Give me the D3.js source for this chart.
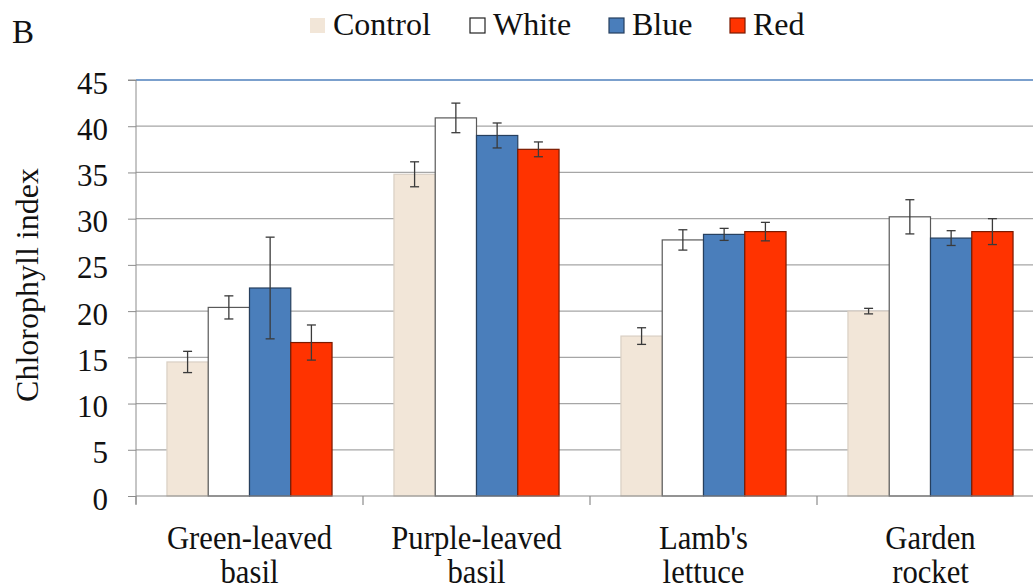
<!DOCTYPE html>
<html><head><meta charset="utf-8">
<script src="https://cdn.jsdelivr.net/npm/d3@7"></script>
<style>body{margin:0;background:#fff;} svg{display:block;} text{font-family:'Liberation Serif', 'Times New Roman', serif;}</style>
</head><body>
<svg id="c" width="1033" height="588"></svg>
<script>
const categories = [["Green-leaved","basil"],["Purple-leaved","basil"],["Lamb's","lettuce"],["Garden","rocket"]];
const seriesNames = ["Control","White","Blue","Red"];
const control = [14.5, 34.8, 17.3, 20.0];
const white   = [20.4, 40.9, 27.7, 30.2];
const blue    = [22.5, 39.0, 28.3, 27.9];
const red     = [16.6, 37.5, 28.6, 28.6];
const controlErr = [1.15, 1.35, 0.9, 0.3];
const whiteErr   = [1.25, 1.6, 1.1, 1.85];
const blueErr    = [5.5, 1.35, 0.65, 0.8];
const redErr     = [1.9, 0.8, 1.0, 1.4];
const yTicks = [0,5,10,15,20,25,30,35,40,45];

(function(){
const FONT = "Liberation Serif";
const values = [control, white, blue, red];
const errs = [controlErr, whiteErr, blueErr, redErr];
const fills = ["#F2E6D8","#FFFFFF","#4A7EBB","#FF3300"];
const strokes = ["#D9CFC4","#595959","#263F5E","#7A1A00"];

const svg = d3.select("#c");
const mLeft = 136, mRight = 1044, mTop = 80, mBottom = 496;

const x = d3.scaleBand().domain(d3.range(categories.length)).range([mLeft, mRight]).padding(0);
const xs = d3.scaleBand().domain(d3.range(seriesNames.length)).range([0, x.bandwidth()]).paddingOuter(0.75).paddingInner(0);
const y = d3.scaleLinear().domain([0,45]).range([mBottom, mTop]);

svg.append("g").selectAll("line").data(yTicks.filter(t=>t>0)).join("line")
  .attr("x1", mLeft).attr("x2", mRight).attr("y1", d=>y(d)).attr("y2", d=>y(d))
  .attr("stroke", d=> d===45 ? "#4F81BD" : "#A6A6A6").attr("stroke-width", d=>d===45?1.5:1.2);

const gs = svg.append("g");
categories.forEach((c, ci) => {
  seriesNames.forEach((s, si) => {
    const v = values[si][ci];
    gs.append("rect")
      .attr("x", x(ci) + xs(si)).attr("width", xs.bandwidth())
      .attr("y", y(v)).attr("height", y(0) - y(v))
      .attr("fill", fills[si]).attr("stroke", strokes[si]).attr("stroke-width", 1.2);
  });
});
categories.forEach((c, ci) => {
  seriesNames.forEach((s, si) => {
    const v = values[si][ci], e = errs[si][ci];
    const cx = x(ci) + xs(si) + xs.bandwidth()/2;
    const g = gs.append("g").attr("stroke", "#3a3a3a").attr("stroke-width", 1.3);
    g.append("line").attr("x1", cx).attr("x2", cx).attr("y1", y(v+e)).attr("y2", y(v-e));
    g.append("line").attr("x1", cx-4.5).attr("x2", cx+4.5).attr("y1", y(v+e)).attr("y2", y(v+e));
    g.append("line").attr("x1", cx-4.5).attr("x2", cx+4.5).attr("y1", y(v-e)).attr("y2", y(v-e));
  });
});

const yAxis = d3.axisLeft(y).tickValues(yTicks).tickSize(8).tickPadding(20);
const ya = svg.append("g").attr("transform", `translate(${mLeft},0)`).call(yAxis);
ya.attr("font-family", FONT);
ya.select(".domain").attr("stroke", "#8c8c8c").attr("d", `M-8,${mTop}H0V${mBottom+8}`);
ya.selectAll(".tick line").attr("stroke", "#8c8c8c");
ya.selectAll("text").attr("font-size", 31).attr("fill", "#111").attr("font-family", FONT).attr("dy", "0.42em");

svg.append("line").attr("x1", mLeft).attr("x2", mRight).attr("y1", mBottom).attr("y2", mBottom).attr("stroke", "#8c8c8c").attr("stroke-width", 1.2);
svg.append("g").selectAll("line").data(d3.range(categories.length+1)).join("line")
  .attr("x1", d=> mLeft + d*x.bandwidth()).attr("x2", d=> mLeft + d*x.bandwidth())
  .attr("y1", mBottom).attr("y2", mBottom+9).attr("stroke", "#8c8c8c").attr("stroke-width", 1.2);
const xl = svg.append("g");
categories.forEach((c, ci) => {
  const cx = x(ci) + x.bandwidth()/2;
  const g = xl.append("g").attr("transform", `translate(${cx},0) scale(0.93,1)`);
  const t = g.append("text").attr("text-anchor","middle")
    .attr("font-size", 33).attr("font-family", FONT).attr("fill", "#111");
  t.append("tspan").attr("x", 0).attr("y", 549).text(c[0]);
  t.append("tspan").attr("x", 0).attr("y", 583).text(c[1]);
});

svg.append("text").attr("transform", "translate(38,285) rotate(-90)").attr("text-anchor","middle")
  .attr("font-size", 32).attr("font-family", FONT).attr("fill","#111").text("Chlorophyll index");

svg.append("text").attr("x", 12).attr("y", 43).attr("font-size", 33).attr("font-family", FONT).attr("fill","#111").text("B");

const legX = [310, 470, 609, 730];
const lg = svg.append("g");
seriesNames.forEach((s, i) => {
  lg.append("rect").attr("x", legX[i]).attr("y", 18).attr("width", 15).attr("height", 15)
    .attr("fill", fills[i]).attr("stroke", i===0 ? "none" : (i===1 ? "#222" : strokes[i])).attr("stroke-width", 1.2);
  lg.append("text").attr("x", legX[i] + 23).attr("y", 35).attr("font-size", 32).attr("font-family", FONT).attr("fill","#111").text(s);
});
})();
</script>
</body></html>
